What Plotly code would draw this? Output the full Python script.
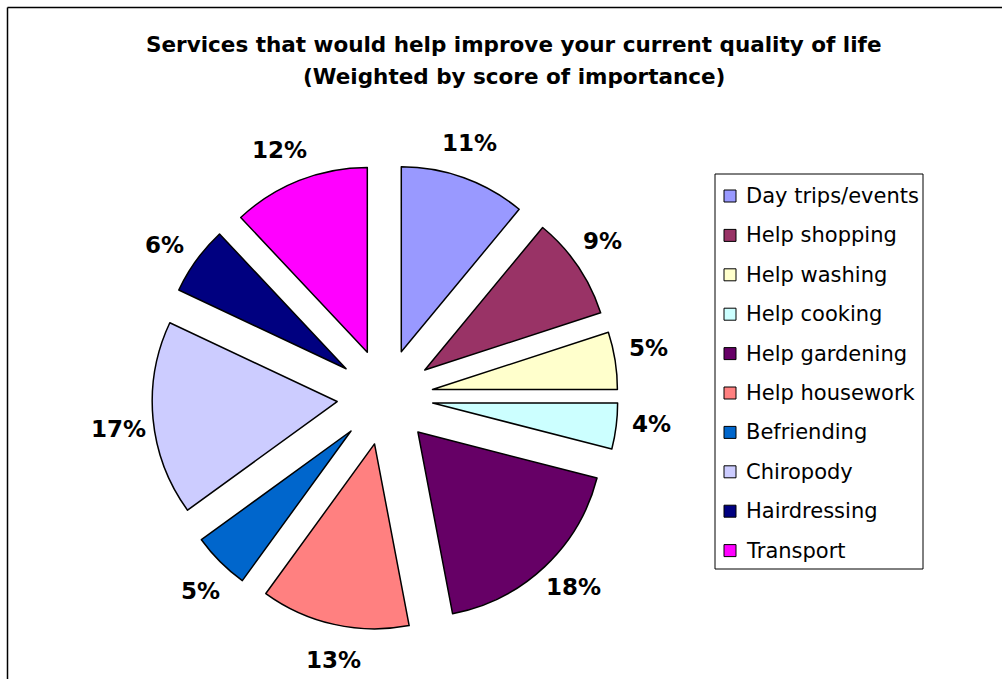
import math
import plotly.graph_objects as go

# Services, their weighted shares (%) and slice colours
services = ["Day trips/events", "Help shopping", "Help washing", "Help cooking",
            "Help gardening", "Help housework", "Befriending", "Chiropody",
            "Hairdressing", "Transport"]
shares = [11, 9, 5, 4, 18, 13, 5, 17, 6, 12]
colors = ["#9999FF", "#993366", "#FFFFCC", "#CCFFFF", "#660066",
          "#FF8080", "#0066CC", "#CCCCFF", "#000080", "#FF00FF"]

W, H = 1002, 679
FONT = "DejaVu Sans"

# pie placement (pixels): centre, outer radius including the pull-out
CX, CY, REACH = 385, 397, 233
LABEL_R = 268
LABEL_TURN = math.radians(-1.5)


def px(x):
    return x / W


def py(y):
    return 1 - y / H


fig = go.Figure()
fig.add_trace(go.Pie(
    labels=services,
    values=shares,
    sort=False,
    direction="clockwise",
    rotation=0,
    pull=0.26,
    marker=dict(colors=colors, line=dict(color="black", width=1.5)),
    textinfo="none",
    automargin=False,
    domain=dict(x=[px(CX - REACH), px(CX + REACH)], y=[py(CY + REACH), py(CY - REACH)]),
    showlegend=False,
    hoverinfo="label+percent",
))

frame = dict(color="black", width=1.5)
shapes = [
    # chart frame: top and left edges (the rest runs past the page)
    dict(type="line", xref="paper", yref="paper", x0=px(7.5), x1=1.0, y0=py(7.5), y1=py(7.5), line=frame),
    dict(type="line", xref="paper", yref="paper", x0=px(7.5), x1=px(7.5), y0=0.0, y1=py(7.5), line=frame),
    # legend box
    dict(type="rect", xref="paper", yref="paper", x0=px(715), x1=px(923), y0=py(569), y1=py(174),
         line=dict(color="black", width=1), fillcolor="white"),
]

title_font = dict(family=FONT, size=21.5, color="black")
annotations = [
    dict(text="<b>Services that would help improve your current quality of life</b>",
         xref="paper", yref="paper", x=px(514), y=py(45), xanchor="center", yanchor="middle",
         showarrow=False, font=title_font),
    dict(text="<b>(Weighted by score of importance)</b>",
         xref="paper", yref="paper", x=px(514), y=py(76), xanchor="center", yanchor="middle",
         showarrow=False, font=title_font),
]

# percentage labels outside each slice, near the slice's mid angle
total = sum(shares)
cum = 0
for v in shares:
    mid = (cum + v / 2) / total * 2 * math.pi + LABEL_TURN
    cum += v
    lx = CX + LABEL_R * math.sin(mid)
    ly = CY - LABEL_R * math.cos(mid)
    annotations.append(dict(text=f"<b>{round(100 * v / total)}%</b>", xref="paper", yref="paper",
                            x=px(lx), y=py(ly), xanchor="center", yanchor="middle",
                            showarrow=False, font=dict(family=FONT, size=23, color="black")))

# legend entries
row0, step = 196, 39.4
for i, (name, c) in enumerate(zip(services, colors)):
    yc = row0 + i * step
    shapes.append(dict(type="rect", xref="paper", yref="paper",
                       x0=px(724), x1=px(736), y0=py(yc + 6), y1=py(yc - 6),
                       line=dict(color="black", width=1), fillcolor=c))
    annotations.append(dict(text=name, xref="paper", yref="paper", x=px(744), y=py(yc),
                            xanchor="left", yanchor="middle", showarrow=False,
                            font=dict(family=FONT, size=21, color="black")))

fig.update_layout(
    width=W, height=H,
    margin=dict(l=0, r=0, t=0, b=0, autoexpand=False),
    paper_bgcolor="white",
    plot_bgcolor="white",
    shapes=shapes,
    annotations=annotations,
)

fig.write_html("out.html")
